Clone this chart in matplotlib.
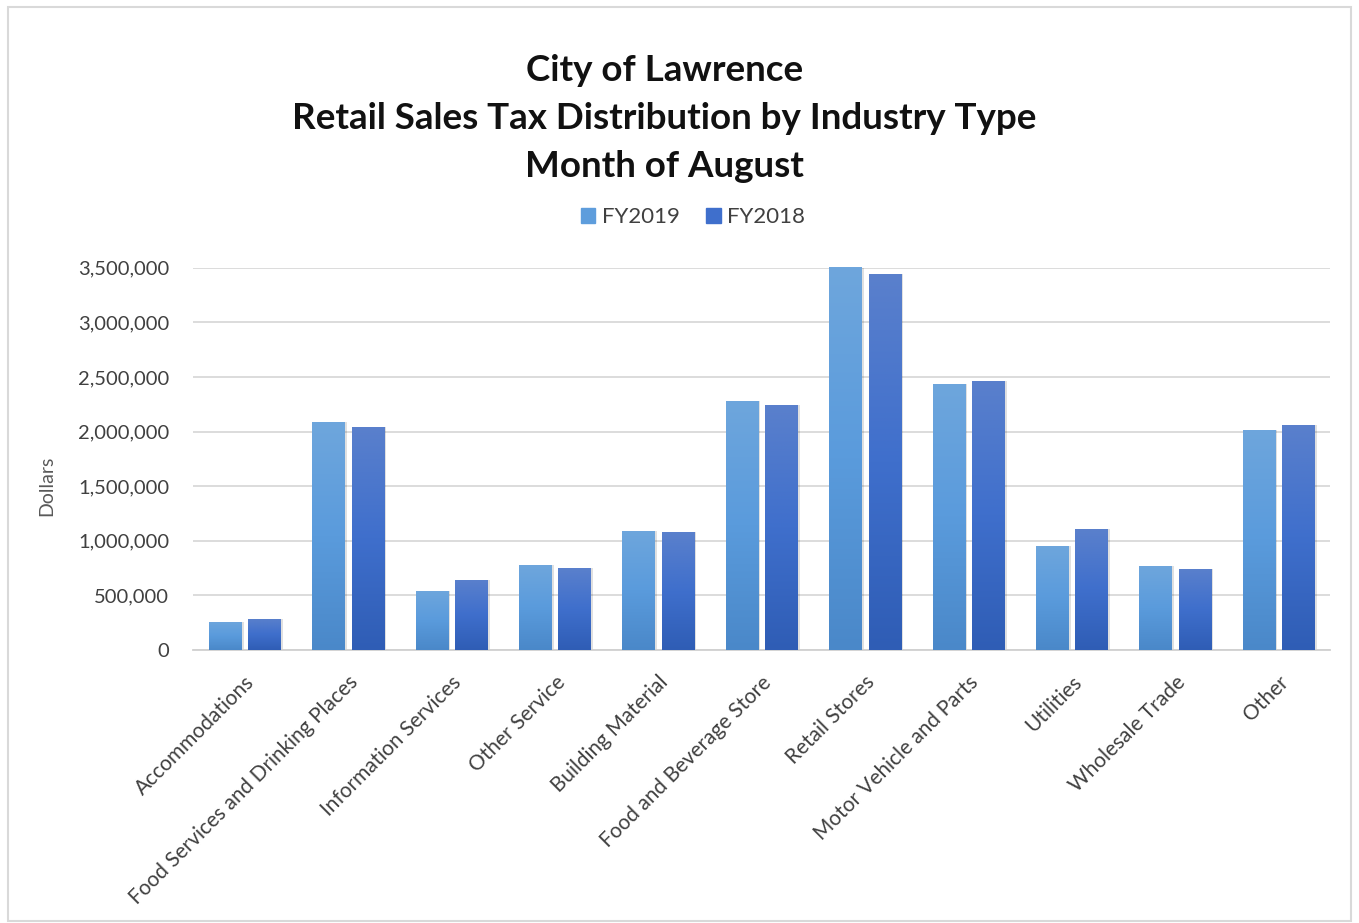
import numpy as np
import matplotlib
matplotlib.use("Agg")
import matplotlib.pyplot as plt
from matplotlib.patches import Rectangle
from matplotlib.colors import LinearSegmentedColormap
from matplotlib.ticker import FuncFormatter

categories = ["Accommodations", "Food Services and Drinking Places", "Information Services",
              "Other Service", "Building Material", "Food and Beverage Store", "Retail Stores",
              "Motor Vehicle and Parts", "Utilities", "Wholesale Trade", "Other"]
fy2019 = [260000, 2085000, 543000, 778000, 1090000, 2283000, 3530000, 2439000, 955000, 766000, 2015000]
fy2018 = [285000, 2042000, 641000, 748000, 1078000, 2240000, 3440000, 2463000, 1105000, 745000, 2063000]

plt.rcParams['font.family'] = ['Lato', 'DejaVu Sans']

fig = plt.figure(figsize=(13.59, 9.23), dpi=100)
ax = fig.add_axes([0.142, 0.2958, 0.8367, 0.4142])

x = np.arange(len(categories))
w = 0.31
off = 0.19
ymax = 3500000

cmap19 = LinearSegmentedColormap.from_list("c19", ["#4a88c9", "#5a9bdc", "#6ea6dd"])
cmap18 = LinearSegmentedColormap.from_list("c18", ["#2f5db5", "#3f6fcc", "#5a80cc"])
grad = np.linspace(0, 1, 256).reshape(-1, 1)

def draw_bars(pos, vals, cmap, label):
    bars = ax.bar(pos, vals, w, color=cmap(0.5), label=label, zorder=3)
    for b in bars:
        x0, h = b.get_x(), min(b.get_height(), ymax)
        # soft shadow
        ax.add_patch(Rectangle((x0 + 0.025, 0), w, h, color="#000000", alpha=0.12, zorder=2, lw=0))
        im = ax.imshow(grad, cmap=cmap, aspect='auto', extent=[x0, x0 + w, 0, h],
                       origin='lower', zorder=3)
        im.set_clip_path(b)
    return bars

draw_bars(x - off, fy2019, cmap19, "FY2019")
draw_bars(x + off, fy2018, cmap18, "FY2018")

ax.set_xlim(-0.5, len(categories) - 0.5)
ax.set_ylim(0, ymax)
ax.set_yticks(np.arange(0, ymax + 1, 500000))
ax.yaxis.set_major_formatter(FuncFormatter(lambda v, p: f"{int(v):,}"))
ax.grid(axis='y', color='#d9d9d9', lw=1.3, zorder=0)
ax.set_axisbelow(True)
for s in ['top', 'right', 'left']:
    ax.spines[s].set_visible(False)
ax.spines['bottom'].set_color('#d0d0d0')
ax.spines['bottom'].set_linewidth(1.3)
ax.tick_params(axis='y', length=0, labelsize=14.5, labelcolor='#404040', pad=17)
ax.set_xticks(x)
ax.set_xticklabels(categories, rotation=45, ha='right', rotation_mode='anchor', fontsize=15)
ax.tick_params(axis='x', length=0, labelcolor='#404040', pad=16)
ax.set_ylabel("Dollars", fontsize=14, color='#595959')
ax.yaxis.set_label_coords(-0.121, 0.43)

handles = [Rectangle((0, 0), 1, 1, color=cmap19(0.6)), Rectangle((0, 0), 1, 1, color=cmap18(0.5))]
fig.legend(handles, ["FY2019", "FY2018"], loc='center', bbox_to_anchor=(0.51, 0.765), ncol=2,
           frameon=False, fontsize=16, handlelength=0.65, handleheight=0.65, handletextpad=0.3,
           columnspacing=1.2, labelcolor='#404040')

fig.text(0.489, 0.872, "City of Lawrence\nRetail Sales Tax Distribution by Industry Type\nMonth of August",
         ha='center', va='center', fontsize=26.5, fontweight='bold', color='#111111', linespacing=1.56)

fig.patches.append(Rectangle((0.006, 0.002), 0.988, 0.99, transform=fig.transFigure,
                             fill=False, edgecolor='#d9d9d9', lw=1.5))

fig.savefig("out.png", dpi=100)
